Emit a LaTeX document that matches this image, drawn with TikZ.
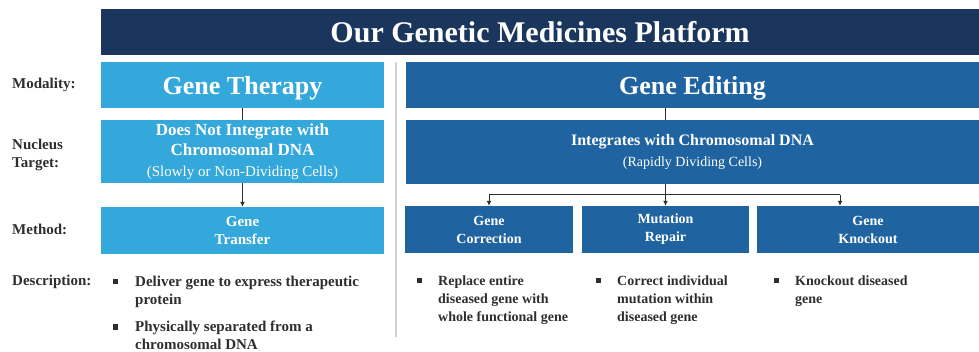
\documentclass[tikz,border=0pt]{standalone}
\usepackage{fontspec}
\setmainfont{Liberation Serif}
\usepackage{xcolor}
\usetikzlibrary{arrows.meta}
\definecolor{navy}{HTML}{1B365D}
\definecolor{lightblue}{HTML}{34A8DB}
\definecolor{darkblue}{HTML}{1F64A0}
\definecolor{inkgray}{HTML}{2E2E2E}
\tikzset{box/.style={draw=none, inner sep=0pt, align=center, text=white},
 lbox/.style={box, fill=lightblue, minimum width=283},
 dbox/.style={box, fill=darkblue},
 lab/.style={anchor=west, inner sep=0pt, align=left, text=inkgray,
   font=\bfseries\fontsize{15}{18}\selectfont},
 bullet/.style={fill=inkgray, minimum size=5, inner sep=0pt},
 desc/.style={anchor=north west, inner sep=0pt, align=left, text=inkgray},
 link/.style={draw=inkgray, line width=1pt},
 arr/.style={link, -{Latex[length=5pt,width=5pt]}},
 }

\begin{document}
\begin{tikzpicture}[x=1pt,y=-1pt]
        \useasboundingbox (0,0) rectangle (979,352);
        \node[box, fill=navy, minimum width=878, minimum height=46, text depth=0pt,
            font=\bfseries\fontsize{30}{36}\selectfont] (title) at (540,32) {Our Genetic Medicines Platform};

        \node[lab] (modality) at (12,85) {Modality:};
        \node[lab] (nucleus) at (12,155) {Nucleus\\Target:};
        \node[lab] (method) at (12,229) {Method:};
        \node[lab] (description) at (12,282) {Description:};

        \draw[gray!35, line width=1.5pt] (396,62) -- (396,337);

        \node[lbox, minimum height=46, text depth=0pt, font=\bfseries\fontsize{26}{30}\selectfont] (therapy) at (242.5,85) {Gene Therapy};
        \node[lbox, minimum height=63, font=\bfseries\fontsize{17}{20.5}\selectfont] (nointegrate) at (242.5,151.5)
            {Does Not Integrate with\\Chromosomal DNA\\{\mdseries\fontsize{15}{18}\selectfont(Slowly or Non-Dividing Cells)}};
        \node[lbox, minimum height=47, font=\bfseries\fontsize{15}{18}\selectfont] (transfer) at (242.5,230.5) {Gene\\Transfer};

        \node[dbox, minimum width=573, minimum height=46, text depth=0pt, font=\bfseries\fontsize{26}{30}\selectfont] (editing) at (692.5,85) {Gene Editing};
        \node[dbox, minimum width=573, minimum height=64, font=\bfseries\fontsize{16}{21}\selectfont] (integrate) at (692.5,152)
            {Integrates with Chromosomal DNA\\{\mdseries\fontsize{14}{21}\selectfont(Rapidly Dividing Cells)}};
        \foreach \name/\x/\w/\txt in {correction/489/168/Gene\\Correction, repair/665.5/167/Mutation\\Repair,
            knockout/868/222/Gene\\Knockout} {
            \node[dbox, minimum width=\w, minimum height=47, font=\bfseries\fontsize{14}{18}\selectfont] (\name) at (\x,229.5) {\txt};
        }

        \draw[link] (therapy) -- (nointegrate);
        \draw[arr] (nointegrate) -- (transfer);

        \coordinate (fork) at (665,195);
        \coordinate (kx) at (840,195);
        \draw[link] (editing.south -| repair) -- (integrate.north -| repair);
        \draw[link] (fork -| correction) -- (kx);
        \draw[arr] (integrate.south -| repair) -- (repair.north);
        \draw[arr] (fork -| correction) -- (correction.north);
        \draw[arr] (kx) -- (kx |- knockout.north);

        \node[bullet] (b1) at (115,282) {};
        \node[desc, font=\bfseries\fontsize{15}{18}\selectfont] (d1) at (135,276) {Deliver gene to express therapeutic\\protein};
        \node[bullet] (b2) at (115,327) {};
        \node[desc, font=\bfseries\fontsize{15}{18}\selectfont] (d2) at (135,321) {Physically separated from a\\chromosomal DNA};

        \foreach \i/\x/\txt in {3/419/Replace entire\\diseased gene with\\whole functional gene,
            4/598/Correct individual\\mutation within\\diseased gene, 5/776/Knockout diseased\\gene} {
            \node[bullet] (b\i) at (\x,281) {};
            \node[desc, font=\bfseries\fontsize{14}{18}\selectfont] (d\i) at (\x+19,275.5) {\txt};
        }
    \end{tikzpicture}
\end{document}
